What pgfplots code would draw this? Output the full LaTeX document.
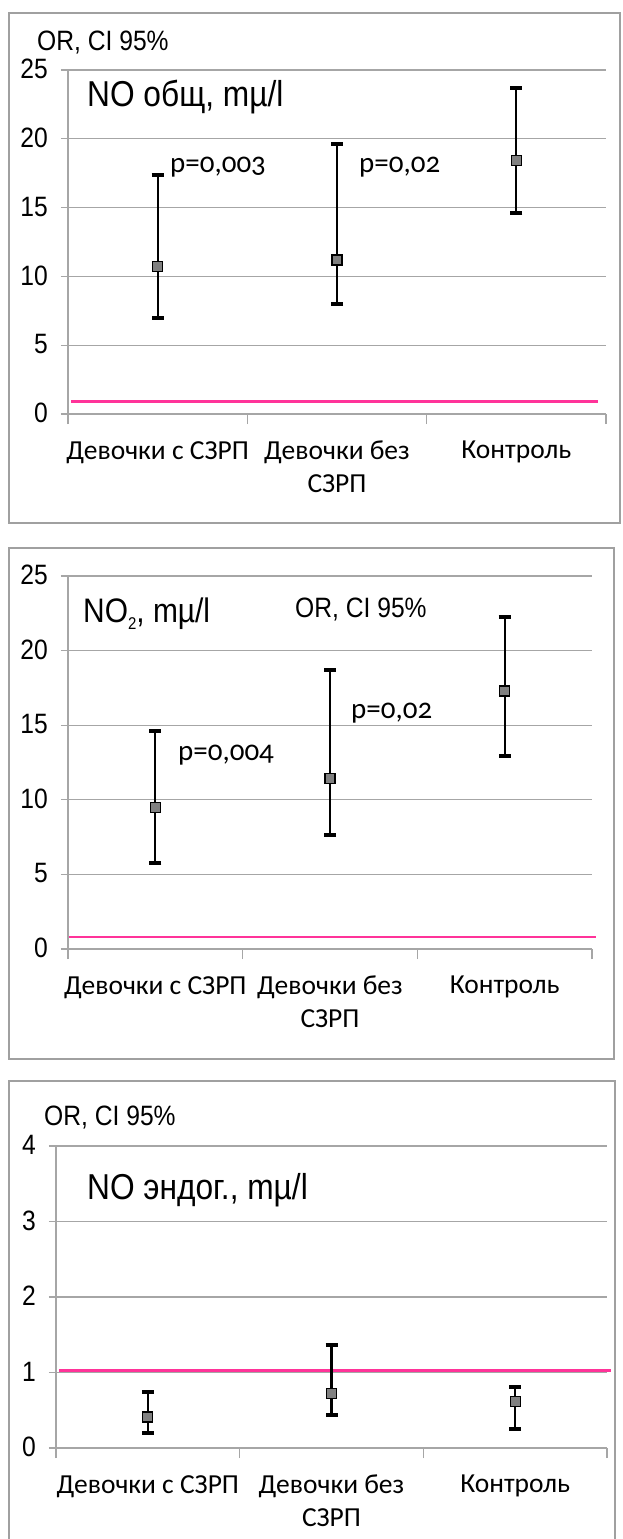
\documentclass[border=0pt]{standalone}
\usepackage{pgfplots}
\pgfplotsset{compat=1.18}
\usepackage{fontspec}
\setmainfont{Liberation Sans}
\newfontfamily\arialf[FakeStretch=0.88]{Liberation Sans}
\newfontfamily\calib{Carlito}
\newfontfamily\pval[Numbers=OldStyle]{Carlito}
\definecolor{pinkline}{RGB}{255,51,153}
\definecolor{framegray}{RGB}{160,160,160}
\definecolor{gridgray}{RGB}{166,166,166}
\definecolor{markgray}{RGB}{128,128,128}
\pgfplotsset{
  panel/.style={
    scale only axis, anchor=south west,
    xmin=0.5, xmax=3.5, ymin=0,
    axis x line=bottom, axis y line=left,
    axis line style={draw=gridgray, line width=1.2pt, -},
    xtick={1,2,3},
    xticklabels={Девочки с СЗРП, {Девочки без\\СЗРП}, Контроль},
    minor xtick={0.5,1.5,2.5,3.5},
    major x tick style={draw=none},
    minor x tick style={draw=gridgray, line width=1.2pt},
    minor tick length=10pt,
    major tick length=7pt,
    tick align=outside,
    ytick style={draw=gridgray, line width=1.2pt},
    ymajorgrids, major grid style={draw=gridgray, line width=1.2pt},
    xticklabel style={font=\calib\fontsize{27.5}{33}\selectfont, align=center, anchor=north, inner sep=0pt, yshift=-20pt},
    yticklabel style={font=\arialf\fontsize{28}{32}\selectfont, inner sep=0pt, xshift=-13pt, yshift=1pt},
    /pgf/number format/assume math mode=true,
    clip=false,
  },
  ci/.style={only marks, mark=square*, mark size=5pt,
    mark options={fill=markgray, draw=black, line width=1.3pt},
    error bars/.cd, y dir=both, y explicit,
    error bar style={line width=2.2pt, black},
    error mark options={rotate=90, line width=4pt, mark size=6pt, black}},
}
\begin{document}
\begin{tikzpicture}
\path[use as bounding box, fill=white] (0pt,0pt) rectangle (622pt,-1539pt);
% ---------- Panel 1 ----------
\draw[framegray, line width=1.7pt] (9pt,-13pt) rectangle (620pt,-523pt);
\begin{axis}[panel, at={(68pt,-414pt)}, width=538pt, height=344pt,
  ymax=25, ytick={0,5,10,15,20,25}]
\addplot[pinkline, line width=2.5pt] coordinates {(0.517,0.9) (3.455,0.9)};
\addplot[ci] coordinates {
  (1,10.7) += (0,6.7) -= (0,3.7)
  (2,11.2) += (0,8.4) -= (0,3.2)
  (3,18.4) += (0,5.3) -= (0,3.8)
};
\end{axis}
\node[anchor=base west, inner sep=0pt] at (37pt,-50pt) {\arialf\fontsize{28}{32}\selectfont OR, CI 95\%};
\node[anchor=base west, inner sep=0pt] at (87pt,-106pt) {\arialf\fontsize{36}{40}\selectfont NO общ, mµ/l};
\node[anchor=base west, inner sep=0pt] at (170pt,-172pt) {\pval\fontsize{29}{34}\selectfont p=0,003};
\node[anchor=base west, inner sep=0pt] at (359pt,-172pt) {\pval\fontsize{29}{34}\selectfont p=0,02};
% ---------- Panel 2 ----------
\draw[framegray, line width=1.7pt] (9pt,-548pt) rectangle (614pt,-1059pt);
\begin{axis}[panel, at={(68pt,-949pt)}, width=524pt, height=373pt,
  ymax=25, ytick={0,5,10,15,20,25}]
\addplot[pinkline, line width=2.5pt] coordinates {(0.508,0.8) (3.523,0.8)};
\addplot[ci] coordinates {
  (1,9.5) += (0,5.1) -= (0,3.75)
  (2,11.45) += (0,7.25) -= (0,3.8)
  (3,17.3) += (0,4.95) -= (0,4.35)
};
\end{axis}
\node[anchor=base west, inner sep=0pt] at (83pt,-622pt) {\arialf\fontsize{34}{38}\selectfont NO\raisebox{-0.22em}{\fontsize{17}{19}\selectfont 2}, mµ/l};
\node[anchor=base west, inner sep=0pt] at (295pt,-617pt) {\arialf\fontsize{28}{32}\selectfont OR, CI 95\%};
\node[anchor=base west, inner sep=0pt] at (178pt,-760pt) {\pval\fontsize{29}{34}\selectfont p=0,004};
\node[anchor=base west, inner sep=0pt] at (351pt,-718pt) {\pval\fontsize{29}{34}\selectfont p=0,02};
% ---------- Panel 3 ----------
\draw[framegray, line width=1.7pt] (9pt,-1545pt) -- (9pt,-1081pt) -- (615pt,-1081pt) -- (615pt,-1545pt);
\begin{axis}[panel, at={(56pt,-1448pt)}, width=551pt, height=302pt,
  ymax=4, ytick={0,1,2,3,4}]
\addplot[pinkline, line width=2.5pt] coordinates {(0.515,1.03) (3.52,1.03)};
\addplot[ci] coordinates {
  (1,0.41) += (0,0.33) -= (0,0.21)
  (2,0.72) += (0,0.65) -= (0,0.28)
  (3,0.62) += (0,0.19) -= (0,0.37)
};
\end{axis}
\node[anchor=base west, inner sep=0pt] at (44pt,-1125pt) {\arialf\fontsize{28}{32}\selectfont OR, CI 95\%};
\node[anchor=base west, inner sep=0pt] at (87pt,-1199pt) {\arialf\fontsize{36}{40}\selectfont NO эндог., mµ/l};
\end{tikzpicture}
\end{document}
